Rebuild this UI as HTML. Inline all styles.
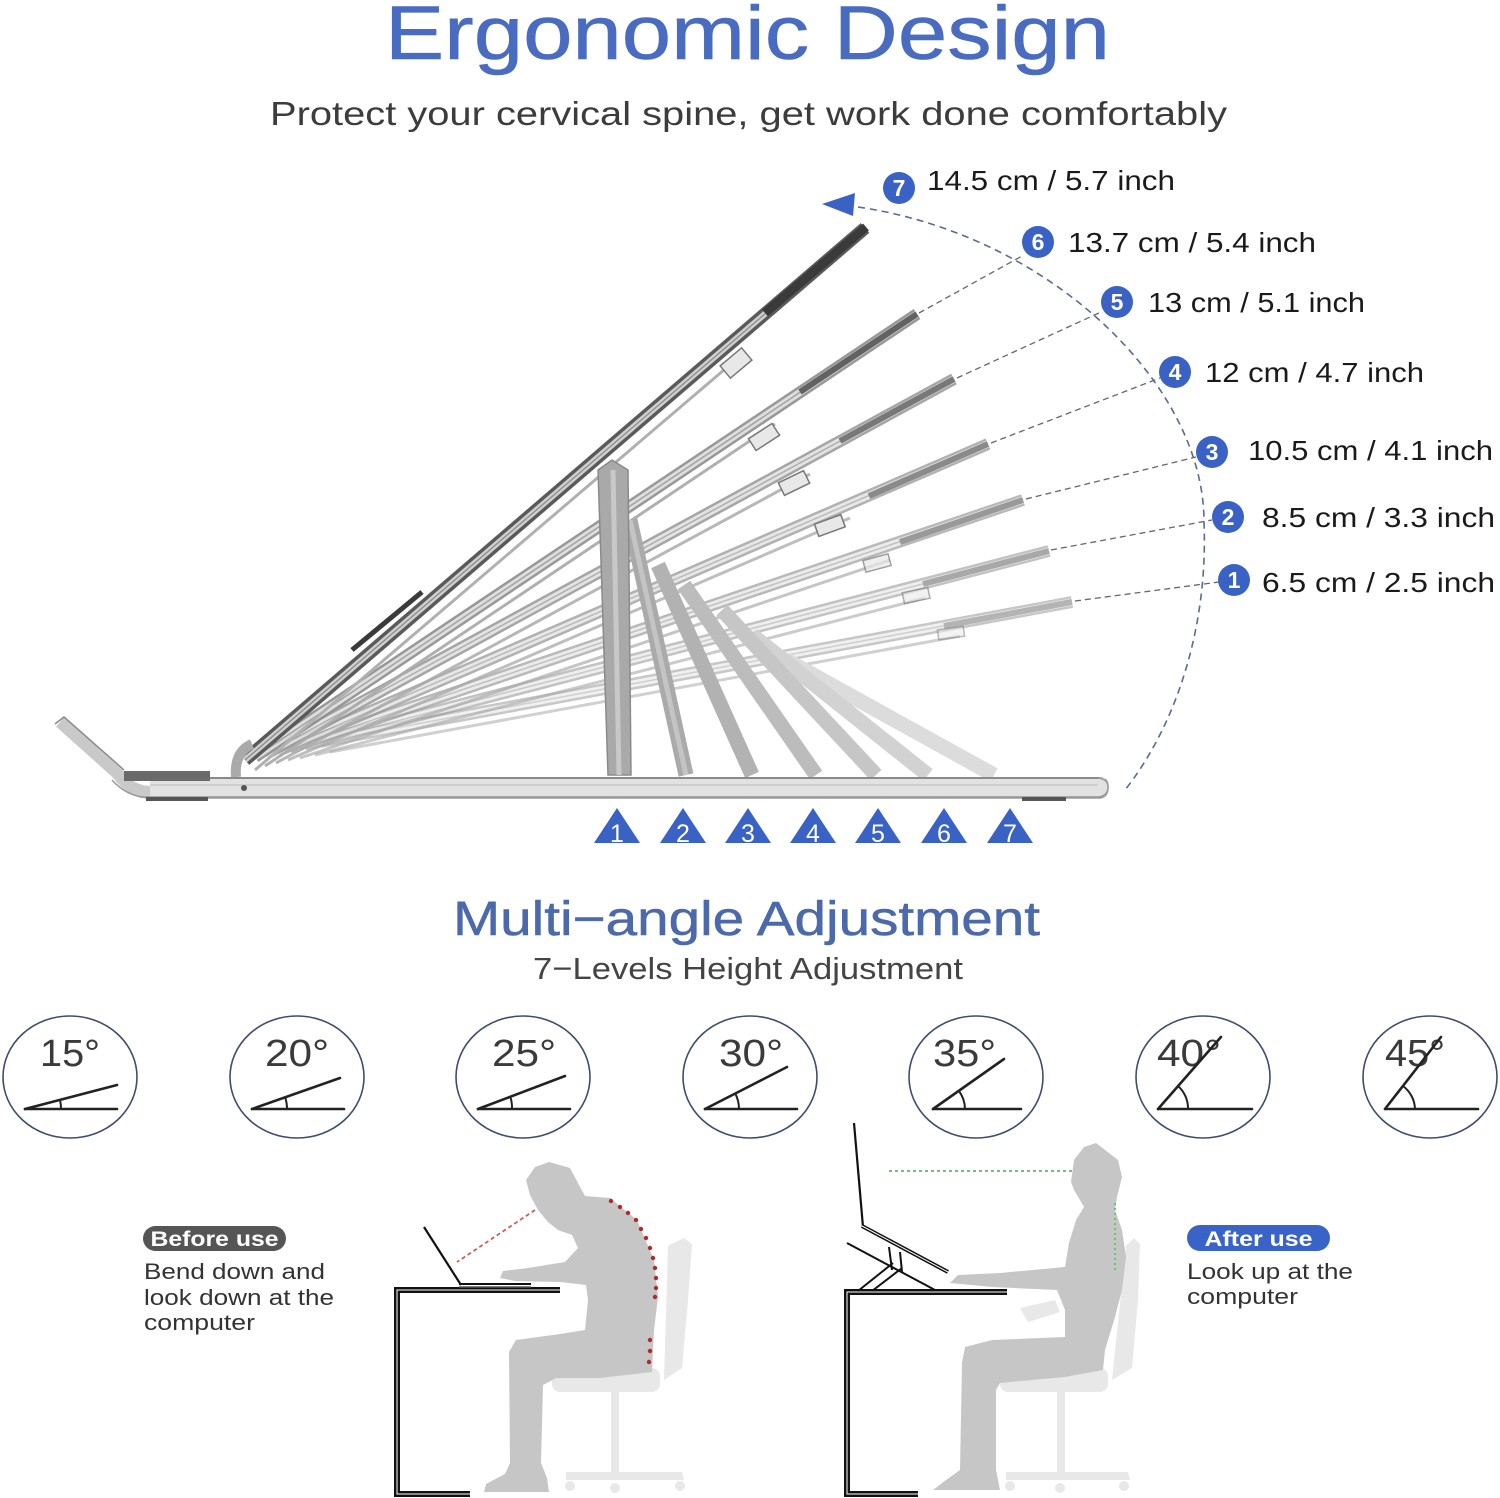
<!DOCTYPE html>
<html>
<head>
<meta charset="utf-8">
<style>
html,body{margin:0;padding:0;background:#fff;}
body{width:1500px;height:1498px;overflow:hidden;}
svg{display:block;}
</style>
</head>
<body>
<svg width="1500" height="1498" viewBox="0 0 1500 1498" xmlns="http://www.w3.org/2000/svg" font-family="Liberation Sans, Arial, sans-serif">
<rect width="1500" height="1498" fill="#fff"/>

<!-- Titles -->
<text x="385" y="59" font-size="76" fill="#4a6cc0" stroke="#4a6cc0" stroke-width="0.6" textLength="725" lengthAdjust="spacingAndGlyphs">Ergonomic Design</text>
<text x="270" y="125" font-size="33" fill="#3c3c3c" textLength="957" lengthAdjust="spacingAndGlyphs">Protect your cervical spine, get work done comfortably</text>

<!-- Dashed arc -->
<path d="M858,207 C1050,235 1205,385 1204,523 C1208,620 1180,720 1125,790" fill="none" stroke="#5a6a90" stroke-width="1.6" stroke-dasharray="7,5"/>
<polygon points="822,204 855,193 853,216" fill="#3a62c4"/>

<!-- Leader lines -->
<g stroke="#666" stroke-width="1.3" stroke-dasharray="6,4" fill="none">
<line x1="919" y1="313" x2="1022" y2="256"/>
<line x1="957" y1="378" x2="1101" y2="312"/>
<line x1="991" y1="443" x2="1160" y2="378"/>
<line x1="1026" y1="499" x2="1196" y2="457"/>
<line x1="1051" y1="550" x2="1212" y2="520"/>
<line x1="1075" y1="601" x2="1219" y2="582"/>
</g>

<!-- Number circles + labels -->
<g fill="#3a62c4">
<circle cx="899" cy="188" r="16"/>
<circle cx="1038" cy="242" r="16"/>
<circle cx="1117" cy="302" r="16"/>
<circle cx="1175" cy="372" r="16"/>
<circle cx="1212" cy="452" r="16"/>
<circle cx="1228" cy="517" r="16"/>
<circle cx="1234" cy="580" r="16"/>
</g>
<g fill="#fff" font-size="23" font-weight="bold" text-anchor="middle">
<text x="899" y="196">7</text>
<text x="1038" y="250">6</text>
<text x="1117" y="310">5</text>
<text x="1175" y="380">4</text>
<text x="1212" y="460">3</text>
<text x="1228" y="525">2</text>
<text x="1234" y="588">1</text>
</g>
<g fill="#1a1a1a" font-size="28">
<text x="927" y="190" textLength="248" lengthAdjust="spacingAndGlyphs">14.5 cm / 5.7 inch</text>
<text x="1068" y="252" textLength="248" lengthAdjust="spacingAndGlyphs">13.7 cm / 5.4 inch</text>
<text x="1148" y="312" textLength="217" lengthAdjust="spacingAndGlyphs">13 cm / 5.1 inch</text>
<text x="1205" y="382" textLength="219" lengthAdjust="spacingAndGlyphs">12 cm / 4.7 inch</text>
<text x="1248" y="460" textLength="245" lengthAdjust="spacingAndGlyphs">10.5 cm / 4.1 inch</text>
<text x="1262" y="527" textLength="233" lengthAdjust="spacingAndGlyphs">8.5 cm / 3.3 inch</text>
<text x="1262" y="592" textLength="233" lengthAdjust="spacingAndGlyphs">6.5 cm / 2.5 inch</text>
</g>

<!-- Stand panels -->
<g stroke-linecap="butt">
<g opacity="0.55">
<line x1="320" y1="742" x2="1072" y2="602" stroke="#9a9a9a" stroke-width="12"/>
<line x1="320" y1="742" x2="1072" y2="602" stroke="#e4e4e4" stroke-width="7"/>
<line x1="320" y1="742" x2="1072" y2="602" stroke="#a8a8a8" stroke-width="1.5"/>
<line x1="944" y1="626" x2="1072" y2="602" stroke="#777" stroke-width="6"/>
<line x1="330" y1="752" x2="960" y2="636" stroke="#aaa" stroke-width="3"/>
</g>
<g opacity="0.6">
<line x1="305" y1="745" x2="1049" y2="551" stroke="#9a9a9a" stroke-width="12"/>
<line x1="305" y1="745" x2="1049" y2="551" stroke="#e4e4e4" stroke-width="7"/>
<line x1="305" y1="745" x2="1049" y2="551" stroke="#a8a8a8" stroke-width="1.5"/>
<line x1="923" y1="584" x2="1049" y2="551" stroke="#707070" stroke-width="6"/>
<line x1="315" y1="755" x2="925" y2="598" stroke="#aaa" stroke-width="3"/>
</g>
<g opacity="0.68">
<line x1="290" y1="748" x2="1023" y2="500" stroke="#999" stroke-width="12"/>
<line x1="290" y1="748" x2="1023" y2="500" stroke="#e2e2e2" stroke-width="7"/>
<line x1="290" y1="748" x2="1023" y2="500" stroke="#a5a5a5" stroke-width="1.5"/>
<line x1="900" y1="542" x2="1023" y2="500" stroke="#6a6a6a" stroke-width="6"/>
<line x1="300" y1="758" x2="890" y2="560" stroke="#aaa" stroke-width="3"/>
</g>
<g opacity="0.76">
<line x1="278" y1="751" x2="988" y2="444" stroke="#999" stroke-width="12"/>
<line x1="278" y1="751" x2="988" y2="444" stroke="#e0e0e0" stroke-width="7"/>
<line x1="278" y1="751" x2="988" y2="444" stroke="#a5a5a5" stroke-width="1.5"/>
<line x1="869" y1="496" x2="988" y2="444" stroke="#666" stroke-width="6"/>
<line x1="288" y1="760" x2="850" y2="518" stroke="#aaa" stroke-width="3"/>
</g>
<g opacity="0.84">
<line x1="266" y1="754" x2="954" y2="379" stroke="#959595" stroke-width="12"/>
<line x1="266" y1="754" x2="954" y2="379" stroke="#dedede" stroke-width="7"/>
<line x1="266" y1="754" x2="954" y2="379" stroke="#a0a0a0" stroke-width="1.5"/>
<line x1="840" y1="441" x2="954" y2="379" stroke="#5f5f5f" stroke-width="6"/>
<line x1="276" y1="763" x2="810" y2="474" stroke="#aaa" stroke-width="3"/>
</g>
<g opacity="0.92">
<line x1="255" y1="757" x2="917" y2="314" stroke="#909090" stroke-width="12"/>
<line x1="255" y1="757" x2="917" y2="314" stroke="#dcdcdc" stroke-width="7"/>
<line x1="255" y1="757" x2="917" y2="314" stroke="#9c9c9c" stroke-width="1.5"/>
<line x1="800" y1="392" x2="917" y2="314" stroke="#555" stroke-width="6"/>
<line x1="265" y1="766" x2="775" y2="424" stroke="#aaa" stroke-width="3"/>
</g>
<!-- panel 7 -->
<line x1="245" y1="760" x2="865" y2="228" stroke="#5a5a5a" stroke-width="13"/>
<line x1="245" y1="760" x2="865" y2="228" stroke="#cfcfcf" stroke-width="6"/>
<line x1="245" y1="760" x2="865" y2="228" stroke="#888" stroke-width="1.2"/>
<line x1="765" y1="313" x2="866" y2="227" stroke="#3a3a3a" stroke-width="9"/>
<line x1="352" y1="650" x2="422" y2="592" stroke="#3a3a3a" stroke-width="5"/>
<line x1="255" y1="770" x2="745" y2="352" stroke="#b0b0b0" stroke-width="3"/>
</g>

<!-- brackets -->
<g fill="#e8e8e8" stroke="#777" stroke-width="1.5">
<rect x="722" y="355" width="28" height="16" transform="rotate(-40 736 363)"/>
<rect x="750" y="430" width="28" height="14" transform="rotate(-33 764 437)"/>
<rect x="780" y="476" width="28" height="14" transform="rotate(-26 794 483)"/>
<rect x="816" y="519" width="28" height="13" transform="rotate(-20 830 526)"/>
<rect x="864" y="557" width="26" height="12" transform="rotate(-15 877 563)" opacity="0.7"/>
<rect x="903" y="590" width="26" height="11" transform="rotate(-12 916 595)" opacity="0.6"/>
<rect x="938" y="628" width="26" height="10" transform="rotate(-8 951 633)" opacity="0.5"/>
</g>

<!-- Legs -->
<g stroke-linecap="butt">
<line x1="786" y1="660" x2="994" y2="775" stroke="#dcdcdc" stroke-width="15"/>
<line x1="752" y1="635" x2="928" y2="775" stroke="#d2d2d2" stroke-width="15"/>
<line x1="722" y1="610" x2="876" y2="775" stroke="#c6c6c6" stroke-width="15"/>
<line x1="684" y1="585" x2="816" y2="775" stroke="#bcbcbc" stroke-width="15"/>
<line x1="658" y1="565" x2="752" y2="775" stroke="#b2b2b2" stroke-width="15"/>
<line x1="630" y1="520" x2="686" y2="775" stroke="#aaaaaa" stroke-width="15"/>
<line x1="630" y1="520" x2="686" y2="775" stroke="#c4c4c4" stroke-width="5"/>
</g>
<polygon points="598,470 612,460 628,470 631,775 608,775" fill="#a9a9a9" stroke="#8a8a8a" stroke-width="1.5"/>
<line x1="613" y1="470" x2="619" y2="775" stroke="#c8c8c8" stroke-width="5"/>

<!-- Base -->
<path d="M60,722 L118,774 Q130,792 152,792 L1100,792" fill="none" stroke="#c9c9c9" stroke-width="12" stroke-linejoin="round"/>
<path d="M55,724 L64,717 L124,770" fill="none" stroke="#888" stroke-width="1.5"/>
<path d="M112,780 Q128,798 152,798 L1100,798 Q1108,797 1108,787 Q1108,778 1100,778 L240,778" fill="none" stroke="#999" stroke-width="1.5"/>
<rect x="150" y="778" width="955" height="18" fill="#e2e2e2"/>
<line x1="150" y1="778" x2="1100" y2="778" stroke="#8a8a8a" stroke-width="2"/>
<line x1="150" y1="785" x2="1104" y2="785" stroke="#bbb" stroke-width="1"/>
<line x1="140" y1="797" x2="1100" y2="797" stroke="#999" stroke-width="1.5"/>
<path d="M1098,778 Q1108,779 1108,787 Q1108,796 1098,797" fill="#e2e2e2" stroke="#999" stroke-width="1.5"/>
<path d="M236,777 Q234,752 252,744" fill="none" stroke="#aaa" stroke-width="10"/>
<rect x="124" y="771" width="86" height="10" fill="#6a6a6a"/>
<rect x="146" y="797" width="62" height="4" fill="#555"/>
<rect x="1022" y="797" width="44" height="4" fill="#555"/>
<circle cx="244" cy="788" r="3" fill="#555"/>

<!-- Triangles -->
<g fill="#3a62c4">
<polygon points="594,843 617,808 640,843"/>
<polygon points="660,843 683,808 706,843"/>
<polygon points="725,843 748,808 771,843"/>
<polygon points="790,843 813,808 836,843"/>
<polygon points="855,843 878,808 901,843"/>
<polygon points="921,843 944,808 967,843"/>
<polygon points="987,843 1010,808 1033,843"/>
</g>
<g fill="#fff" font-size="25" text-anchor="middle">
<text x="617" y="842">1</text>
<text x="683" y="842">2</text>
<text x="748" y="842">3</text>
<text x="813" y="842">4</text>
<text x="878" y="842">5</text>
<text x="944" y="842">6</text>
<text x="1010" y="842">7</text>
</g>

<!-- Section 2 titles -->
<text x="453" y="935" font-size="48" fill="#4b69ab" stroke="#4b69ab" stroke-width="0.5" textLength="587" lengthAdjust="spacingAndGlyphs">Multi−angle Adjustment</text>
<text x="533" y="979" font-size="31" fill="#444" textLength="430" lengthAdjust="spacingAndGlyphs">7−Levels Height Adjustment</text>

<!-- Angle ellipses -->
<g fill="none" stroke="#3e4d6e" stroke-width="1.6">
<ellipse cx="70" cy="1077" rx="67" ry="61"/>
<ellipse cx="297" cy="1077" rx="67" ry="61"/>
<ellipse cx="523" cy="1077" rx="67" ry="61"/>
<ellipse cx="750" cy="1077" rx="67" ry="61"/>
<ellipse cx="976" cy="1077" rx="67" ry="61"/>
<ellipse cx="1203" cy="1077" rx="67" ry="61"/>
<ellipse cx="1430" cy="1077" rx="67" ry="61"/>
</g>
<g fill="#3a3a3a" font-size="38">
<text x="40" y="1066" textLength="60" lengthAdjust="spacingAndGlyphs">15°</text>
<text x="265" y="1066" textLength="64" lengthAdjust="spacingAndGlyphs">20°</text>
<text x="492" y="1066" textLength="64" lengthAdjust="spacingAndGlyphs">25°</text>
<text x="719" y="1066" textLength="64" lengthAdjust="spacingAndGlyphs">30°</text>
<text x="933" y="1066" textLength="63" lengthAdjust="spacingAndGlyphs">35°</text>
<text x="1157" y="1066" textLength="64" lengthAdjust="spacingAndGlyphs">40°</text>
<text x="1385" y="1066" textLength="60" lengthAdjust="spacingAndGlyphs">45°</text>
</g>
<g stroke="#222" stroke-width="2.6" fill="none" stroke-linecap="round">
<line x1="25" y1="1109" x2="117" y2="1109"/><line x1="25" y1="1109" x2="117" y2="1085"/>
<line x1="252" y1="1109" x2="344" y2="1109"/><line x1="252" y1="1109" x2="340" y2="1078"/>
<line x1="478" y1="1109" x2="570" y2="1109"/><line x1="478" y1="1109" x2="565" y2="1076"/>
<line x1="705" y1="1109" x2="797" y2="1109"/><line x1="705" y1="1109" x2="787" y2="1067"/>
<line x1="933" y1="1109" x2="1021" y2="1109"/><line x1="933" y1="1109" x2="1004" y2="1059"/>
<line x1="1158" y1="1109" x2="1252" y2="1109"/><line x1="1158" y1="1109" x2="1221" y2="1037"/>
<line x1="1385" y1="1109" x2="1478" y2="1109"/><line x1="1385" y1="1109" x2="1441" y2="1037"/>
</g>
<g stroke="#222" stroke-width="2" fill="none">
<path d="M60,1100 A36,36 0 0 1 61,1109"/>
<path d="M285,1097 A35,35 0 0 1 287,1109"/>
<path d="M510,1096 A34,34 0 0 1 512,1109"/>
<path d="M735,1093 A34,34 0 0 1 739,1109"/>
<path d="M959,1091 A32,32 0 0 1 965,1109"/>
<path d="M1178,1086 A30,30 0 0 1 1188,1109"/>
<path d="M1403,1086 A30,30 0 0 1 1415,1109"/>
</g>

<!-- Before use: chair -->
<g fill="#e8e8e8">
<polygon points="668,1246 684,1238 692,1244 688,1300 682,1368 664,1380"/>
<rect x="552" y="1368" width="108" height="24" rx="8"/>
<rect x="611" y="1392" width="8" height="80"/>
<polygon points="566,1472 682,1472 684,1480 566,1480"/>
<circle cx="570" cy="1486" r="5"/><circle cx="615" cy="1488" r="5"/><circle cx="680" cy="1486" r="5"/>
</g>
<!-- Before use: person -->
<polygon fill="#c6c6c6" points="549,1162 570,1168 579,1185 585,1196 610,1198 637,1220 654,1260 658,1297 654,1330 652,1372 600,1378 556,1378 543,1385 541,1463 547,1478 549,1492 484,1492 486,1484 505,1474 510,1463 509,1352 516,1340 560,1334 585,1330 588,1300 586,1285 560,1282 515,1281 500,1278 503,1271 528,1268 565,1262 578,1248 572,1235 558,1230 548,1222 538,1210 530,1195 526,1180 535,1167"/>
<!-- Before desk & laptop -->
<path d="M560,1290 L397,1290 L397,1494 L470,1494" fill="none" stroke="#111" stroke-width="6"/>
<path d="M560,1290 L397,1290 L397,1494 L470,1494" fill="none" stroke="#fff" stroke-width="1"/>
<line x1="424" y1="1227" x2="461" y2="1285" stroke="#111" stroke-width="2.2"/>
<line x1="459" y1="1284" x2="531" y2="1284" stroke="#111" stroke-width="2"/>
<line x1="459" y1="1287" x2="531" y2="1287" stroke="#555" stroke-width="1.5"/>
<line x1="535" y1="1210" x2="457" y2="1262" stroke="#d45a5a" stroke-width="1.8" stroke-dasharray="4,3"/>
<g fill="#b02a2a">
<circle cx="611" cy="1201" r="2.2"/><circle cx="620" cy="1207" r="2.2"/><circle cx="628" cy="1213" r="2.2"/><circle cx="636" cy="1220" r="2.2"/><circle cx="641" cy="1229" r="2.2"/><circle cx="646" cy="1238" r="2.2"/><circle cx="650" cy="1248" r="2.2"/><circle cx="653" cy="1258" r="2.2"/><circle cx="655" cy="1268" r="2.2"/><circle cx="656" cy="1278" r="2.2"/><circle cx="656" cy="1288" r="2.2"/><circle cx="655" cy="1297" r="2.2"/>
<circle cx="650" cy="1340" r="2.2"/><circle cx="650" cy="1351" r="2.2"/><circle cx="649" cy="1362" r="2.2"/>
</g>
<!-- Before text -->
<rect x="143" y="1226" width="143" height="25" rx="12.5" fill="#555"/>
<text x="214.5" y="1246" font-size="21" font-weight="bold" fill="#fff" text-anchor="middle" textLength="128" lengthAdjust="spacingAndGlyphs">Before use</text>
<g fill="#333" font-size="22">
<text x="144" y="1279" textLength="181" lengthAdjust="spacingAndGlyphs">Bend down and</text>
<text x="144" y="1305" textLength="190" lengthAdjust="spacingAndGlyphs">look down at the</text>
<text x="144" y="1330" textLength="111" lengthAdjust="spacingAndGlyphs">computer</text>
</g>

<!-- After use: chair -->
<g fill="#e8e8e8">
<polygon points="1126,1246 1134,1238 1140,1244 1138,1300 1132,1368 1112,1380"/>
<rect x="1000" y="1368" width="108" height="24" rx="8"/>
<rect x="1057" y="1392" width="8" height="80"/>
<polygon points="1006,1472 1128,1472 1130,1480 1006,1480"/>
<circle cx="1010" cy="1486" r="5"/><circle cx="1060" cy="1488" r="5"/><circle cx="1124" cy="1486" r="5"/>
<polygon points="1020,1308 1055,1300 1060,1312 1028,1322"/>
</g>
<!-- After person -->
<polygon fill="#c6c6c6" points="1096,1143 1118,1160 1122,1177 1117,1197 1115,1210 1122,1230 1126,1257 1122,1290 1115,1317 1105,1350 1103,1370 1065,1377 1000,1383 996,1390 996,1470 1000,1490 933,1490 946,1480 960,1470 962,1363 965,1347 992,1340 1065,1337 1065,1310 1057,1290 992,1287 950,1283 958,1275 1000,1273 1065,1267 1069,1243 1076,1220 1084,1207 1080,1200 1074,1190 1071,1182 1074,1160 1084,1147"/>
<!-- After desk & stand -->
<path d="M1007,1292 L847,1292 L847,1494 L918,1494" fill="none" stroke="#111" stroke-width="6"/>
<path d="M1007,1292 L847,1292 L847,1494 L918,1494" fill="none" stroke="#fff" stroke-width="1"/>
<line x1="854" y1="1123" x2="863" y2="1227" stroke="#111" stroke-width="2.2"/>
<line x1="862" y1="1226" x2="948" y2="1272" stroke="#111" stroke-width="4"/>
<line x1="862" y1="1226" x2="948" y2="1272" stroke="#fff" stroke-width="1"/>
<line x1="847" y1="1243" x2="935" y2="1290" stroke="#111" stroke-width="2"/>
<line x1="889" y1="1247" x2="892" y2="1270" stroke="#111" stroke-width="2"/>
<line x1="900" y1="1252" x2="902" y2="1272" stroke="#111" stroke-width="2"/>
<line x1="858" y1="1291" x2="893" y2="1263" stroke="#111" stroke-width="2"/>
<line x1="872" y1="1291" x2="902" y2="1268" stroke="#111" stroke-width="2"/>
<line x1="889" y1="1171" x2="1073" y2="1171" stroke="#6cc46c" stroke-width="2" stroke-dasharray="3,3"/>
<line x1="1115" y1="1203" x2="1115" y2="1273" stroke="#6cc46c" stroke-width="2" stroke-dasharray="2,3"/>
<!-- After text -->
<rect x="1187" y="1225" width="143" height="26" rx="13" fill="#3a63c8"/>
<text x="1258.5" y="1246" font-size="21" font-weight="bold" fill="#fff" text-anchor="middle" textLength="108" lengthAdjust="spacingAndGlyphs">After use</text>
<g fill="#333" font-size="22">
<text x="1187" y="1279" textLength="166" lengthAdjust="spacingAndGlyphs">Look up at the</text>
<text x="1187" y="1304" textLength="111" lengthAdjust="spacingAndGlyphs">computer</text>
</g>
</svg>
</body>
</html>
